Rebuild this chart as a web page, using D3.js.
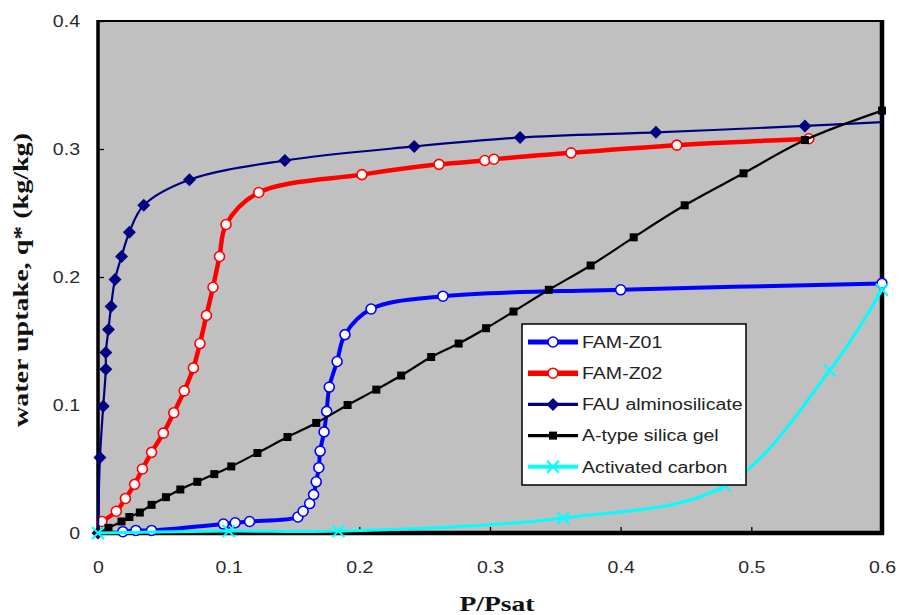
<!DOCTYPE html>
<html>
<head>
<meta charset="utf-8">
<script src="https://cdn.jsdelivr.net/npm/d3@7"></script>
<style>
  html, body { margin: 0; padding: 0; background: #fff; }
  svg { display: block; }
</style>
</head>
<body>
<script>
// Water adsorption isotherms: uptake vs relative pressure

// [P/Psat, q*]
const famZ01 = [
  [0.019, 0.001], [0.029, 0.002], [0.041, 0.002], [0.096, 0.007], [0.105, 0.008],
  [0.116, 0.009], [0.153, 0.0125], [0.157, 0.017], [0.162, 0.023], [0.165, 0.030],
  [0.167, 0.040], [0.169, 0.051], [0.170, 0.064], [0.173, 0.079], [0.175, 0.095],
  [0.177, 0.114], [0.183, 0.134], [0.189, 0.155], [0.209, 0.175], [0.264, 0.185],
  [0.400, 0.190], [0.600, 0.195]
];
const famZ02 = [
  [0.003, 0.009], [0.014, 0.017], [0.021, 0.027], [0.028, 0.038], [0.034, 0.050],
  [0.041, 0.063], [0.050, 0.078], [0.058, 0.094], [0.066, 0.111], [0.073, 0.129],
  [0.078, 0.148], [0.083, 0.170], [0.088, 0.192], [0.093, 0.216], [0.098, 0.241],
  [0.123, 0.266], [0.202, 0.280], [0.261, 0.288], [0.296, 0.291], [0.303, 0.292],
  [0.362, 0.297], [0.443, 0.303], [0.544, 0.308]
];
const fau = [
  [0, 0], [0.0015, 0.059], [0.004, 0.099], [0.006, 0.128], [0.006, 0.141],
  [0.008, 0.159], [0.010, 0.177], [0.013, 0.198], [0.018, 0.216], [0.024, 0.235],
  [0.035, 0.256], [0.070, 0.276], [0.143, 0.291], [0.242, 0.302], [0.323, 0.309],
  [0.427, 0.313], [0.541, 0.318], [0.600, 0.321]
];
const silicaGel = [
  [0, 0], [0.008, 0.004], [0.018, 0.009], [0.024, 0.0125], [0.032, 0.016],
  [0.041, 0.022], [0.052, 0.028], [0.063, 0.034], [0.076, 0.040], [0.089, 0.046],
  [0.102, 0.052], [0.122, 0.0625], [0.145, 0.075], [0.167, 0.086], [0.191, 0.100],
  [0.213, 0.112], [0.232, 0.123], [0.255, 0.1375], [0.276, 0.148], [0.297, 0.160],
  [0.318, 0.173], [0.345, 0.190], [0.377, 0.209], [0.410, 0.231], [0.449, 0.256],
  [0.494, 0.281], [0.541, 0.307], [0.600, 0.330]
];
const activatedCarbon = [
  [0, 0], [0.100, 0.0015], [0.184, 0.0015], [0.356, 0.0117], [0.480, 0.037],
  [0.560, 0.127], [0.600, 0.190]
];

const seriesNames = ['FAM-Z01', 'FAM-Z02', 'FAU alminosilicate', 'A-type silica gel', 'Activated carbon'];
const xTicks = [0, 0.1, 0.2, 0.3, 0.4, 0.5, 0.6];
const yTicks = [0, 0.1, 0.2, 0.3, 0.4];

const W = 900, H = 615;
const STRETCH = 1.22; // the picture is a bit wide, text too

const series = [
  { name: seriesNames[0], data: famZ01, color: '#0000ff', width: 4, marker: 'circle', plain: 0 },
  { name: seriesNames[1], data: famZ02, color: '#ff0000', width: 4.5, marker: 'circle', plain: 0 },
  { name: seriesNames[2], data: fau, color: '#000080', width: 2.2, marker: 'diamond', plain: 1 },
  { name: seriesNames[3], data: silicaGel, color: '#000000', width: 2.2, marker: 'square', plain: 0 },
  { name: seriesNames[4], data: activatedCarbon, color: '#00ffff', width: 3, marker: 'cross', plain: 0 }
];

const svg = d3.select('body').append('svg')
  .attr('width', W)
  .attr('height', H);

const x = d3.scaleLinear().domain([0, 0.6]).range([98, 882]);
const y = d3.scaleLinear().domain([0, 0.4]).range([533, 21]);

// stretch text sideways to match the wide glyphs
function widen(sel, k) {
  sel.each(function() {
    const len = this.getComputedTextLength();
    d3.select(this).attr('textLength', len * k).attr('lengthAdjust', 'spacingAndGlyphs');
  });
}

// plot area
svg.append('rect')
  .attr('x', x(0)).attr('y', y(0.4))
  .attr('width', x(0.6) - x(0)).attr('height', y(0) - y(0.4))
  .attr('fill', '#c0c0c0');

const fmt = d => d === 0 ? '0' : d3.format('.1f')(d);

const yAxis = svg.append('g')
  .attr('transform', `translate(${x(0)},0)`)
  .call(d3.axisLeft(y).tickValues(yTicks).tickSize(-6).tickPadding(18).tickFormat(fmt));
const xAxis = svg.append('g')
  .attr('transform', `translate(0,${y(0)})`)
  .call(d3.axisBottom(x).tickValues(xTicks).tickSize(-6).tickPadding(29).tickFormat(fmt));

[yAxis, xAxis].forEach(g => {
  g.select('.domain').remove();
  g.selectAll('line').attr('stroke', '#000').attr('stroke-width', 1.3);
  g.selectAll('text')
    .attr('font-family', '"Liberation Sans", Arial, sans-serif')
    .attr('font-size', 16)
    .attr('fill', '#2a2a2a')
    .call(widen, STRETCH);
});

// frame: thin top, heavy left/right/bottom
const frame = svg.append('g').attr('stroke', '#000');
frame.append('line').attr('x1', x(0) - 1).attr('x2', x(0.6) + 2).attr('y1', y(0.4)).attr('y2', y(0.4)).attr('stroke-width', 2.2);
frame.append('line').attr('x1', x(0)).attr('x2', x(0)).attr('y1', y(0.4) - 1).attr('y2', y(0) + 2).attr('stroke-width', 3.5);
frame.append('line').attr('x1', x(0.6)).attr('x2', x(0.6)).attr('y1', y(0.4) - 1).attr('y2', y(0) + 2).attr('stroke-width', 4.5);
frame.append('line').attr('x1', x(0) - 1).attr('x2', x(0.6) + 2).attr('y1', y(0)).attr('y2', y(0)).attr('stroke-width', 4.5);

const line = d3.line()
  .x(d => x(d[0]))
  .y(d => y(d[1]))
  .curve(d3.curveCatmullRom.alpha(0.5));

function drawMarker(g, type, color, cx, cy) {
  if (type === 'circle') {
    g.append('circle').attr('cx', cx).attr('cy', cy).attr('r', 5)
      .attr('fill', '#fff').attr('stroke', color).attr('stroke-width', 1.6);
  } else if (type === 'diamond') {
    const s = 6.5;
    g.append('path')
      .attr('d', `M${cx},${cy - s}L${cx + s},${cy}L${cx},${cy + s}L${cx - s},${cy}Z`)
      .attr('fill', color);
  } else if (type === 'square') {
    g.append('rect').attr('x', cx - 4).attr('y', cy - 4).attr('width', 8).attr('height', 8)
      .attr('fill', color);
  } else if (type === 'cross') {
    const s = 6;
    g.append('path')
      .attr('d', `M${cx - s},${cy - s}L${cx + s},${cy + s}M${cx - s},${cy + s}L${cx + s},${cy - s}`)
      .attr('stroke', color).attr('stroke-width', 2).attr('fill', 'none');
  }
}

const plot = svg.append('g');
series.forEach(s => {
  const g = plot.append('g');
  g.append('path')
    .attr('d', line(s.data))
    .attr('fill', 'none')
    .attr('stroke', s.color)
    .attr('stroke-width', s.width)
    .attr('stroke-linejoin', 'round');
  s.data.slice(0, s.data.length - s.plain).forEach(d => drawMarker(g, s.marker, s.color, x(d[0]), y(d[1])));
});

// legend
const legend = svg.append('g').attr('transform', 'translate(522,324)');
legend.append('rect')
  .attr('width', 224).attr('height', 161)
  .attr('fill', '#fff').attr('stroke', '#000').attr('stroke-width', 1.5);
series.forEach((s, i) => {
  const ly = 18 + i * 31.2;
  const g = legend.append('g');
  g.append('line')
    .attr('x1', 6).attr('x2', 56).attr('y1', ly).attr('y2', ly)
    .attr('stroke', s.color).attr('stroke-width', s.width + 1);
  drawMarker(g, s.marker, s.color, 31, ly);
  g.append('text')
    .attr('x', 60).attr('y', ly)
    .attr('dy', '0.36em')
    .attr('font-family', '"Liberation Sans", Arial, sans-serif')
    .attr('font-size', 16)
    .attr('fill', '#222')
    .text(s.name)
    .call(widen, STRETCH);
});

// axis titles
svg.append('text')
  .attr('x', 497).attr('y', 611)
  .attr('text-anchor', 'middle')
  .attr('font-family', '"Liberation Serif", "Times New Roman", serif')
  .attr('font-weight', 'bold')
  .attr('font-size', 21)
  .attr('fill', '#111')
  .attr('textLength', 75)
  .attr('lengthAdjust', 'spacingAndGlyphs')
  .text('P/Psat');

svg.append('text')
  .attr('transform', 'translate(28,280) rotate(-90)')
  .attr('text-anchor', 'middle')
  .attr('font-family', '"Liberation Serif", "Times New Roman", serif')
  .attr('font-weight', 'bold')
  .attr('font-size', 21)
  .attr('fill', '#111')
  .attr('textLength', 294)
  .attr('lengthAdjust', 'spacingAndGlyphs')
  .text('water uptake, q* (kg/kg)');
</script>
</body>
</html>
